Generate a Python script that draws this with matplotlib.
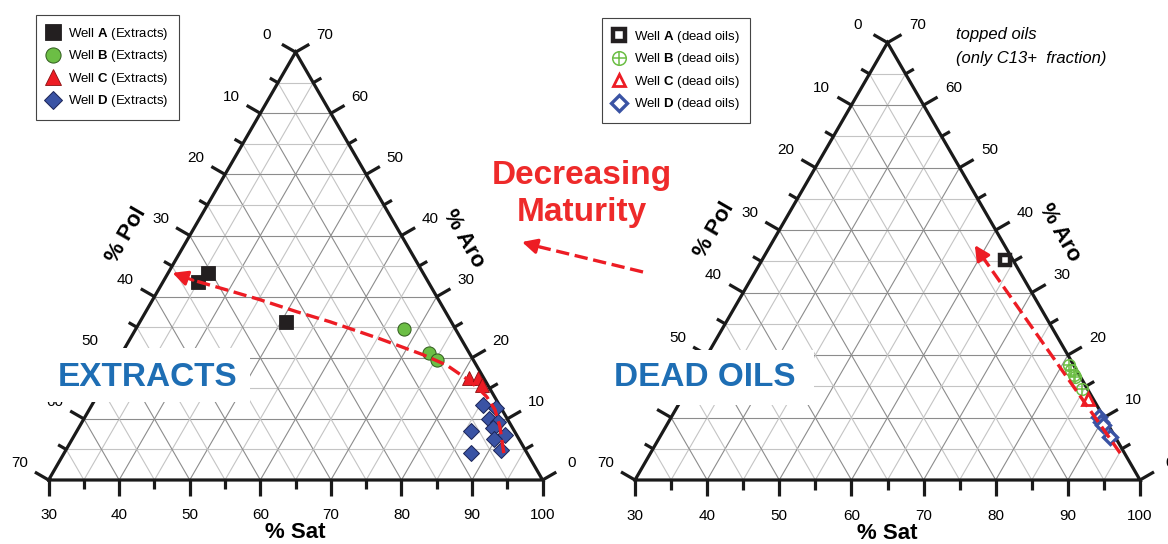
import numpy as np
import matplotlib.pyplot as plt
from matplotlib.lines import Line2D
from matplotlib.patches import Rectangle

plt.rcParams['font.family'] = ['Liberation Sans', 'DejaVu Sans']
plt.rcParams['mathtext.fontset'] = 'custom'
plt.rcParams['mathtext.rm'] = 'Liberation Sans'
plt.rcParams['mathtext.bf'] = 'Liberation Sans:bold'

# ---- data (% Sat, % Aro; % Pol = 100 - Sat - Aro) ----
# extracts
ext_a_sat = [35.0, 35.7, 50.7]
ext_a_aro = [32.4, 33.9, 25.9]
ext_b_sat = [68.0, 73.5, 75.2]
ext_b_aro = [24.7, 20.8, 19.6]
ext_c_sat = [81.2, 82.5, 83.6]
ext_c_aro = [16.7, 16.7, 15.5]
ext_d_sat = [85.4, 87.5, 87.4, 88.9, 88.7, 91.0, 89.8, 91.7, 85.8, 87.6]
ext_d_aro = [12.3, 11.8, 10.0, 9.5, 8.5, 7.4, 6.7, 4.9, 8.0, 4.4]

# dead oils (topped, C13+)
oil_a_sat = [63.7]
oil_a_aro = [35.2]
oil_b_sat = [80.9, 81.7, 82.5, 82.8, 84.7]
oil_b_aro = [18.4, 17.6, 16.8, 16.5, 14.6]
oil_c_sat = [86.3]
oil_c_aro = [13.0]
oil_d_sat = [89.2, 90.0, 90.5, 92.4]
oil_d_aro = [10.1, 9.3, 8.8, 6.9]

# maturity trend arrows (sat, aro)
trend_ext_sat = [92.3, 89.6, 87.5, 85.3, 83.1, 80.7, 77.0, 72.8, 65.4, 56.9, 51.5, 45.2, 39.7, 34.1, 30.6]
trend_ext_aro = [4.4, 8.7, 11.5, 13.6, 15.2, 16.7, 18.8, 20.5, 23.1, 25.9, 27.5, 29.5, 31.1, 32.7, 33.9]
trend_oil_sat = [95.1, 60.0, 58.3]
trend_oil_aro = [4.3, 36.0, 37.6]

BLACK = '#231f20'
GREEN = '#6cbe45'
RED = '#ed1c24'
BLUE = '#3a53a4'
TXTBLUE = '#1e6eb4'
W, H = 1168, 544


def tern(sat, aro):
    sat = np.asarray(sat, float)
    aro = np.asarray(aro, float)
    x = (sat - 30) / 70 + 0.5 * aro / 70
    y = np.sqrt(3) / 2 * aro / 70
    return x, y


fig = plt.figure(figsize=(W / 100, H / 100), dpi=100)
fig.patch.set_facecolor('white')


def make_ax(x0, s, ybase):
    xl, yl = (-0.15, 1.15), (-0.2, 0.95)
    ax = fig.add_axes([(x0 + xl[0] * s) / W, (H - ybase + yl[0] * s) / H,
                       (xl[1] - xl[0]) * s / W, (yl[1] - yl[0]) * s / H])
    ax.set_xlim(xl)
    ax.set_ylim(yl)
    ax.axis('off')
    ax.patch.set_alpha(0)
    return ax


def draw_frame(ax):
    c30, s30 = np.cos(np.pi / 6), 0.5
    for v in range(5, 70, 5):
        col = '#8c8c8c' if v % 10 == 0 else '#c4c4c4'
        kw = dict(color=col, lw=0.8, zorder=1)
        ax.plot(*tern([30, 100 - v], [v, v]), **kw)
        ax.plot(*tern([100 - v, 30], [0, 70 - v]), **kw)
        ax.plot(*tern([30 + v, 30 + v], [0, 70 - v]), **kw)
    ax.plot(*tern([30, 100, 30, 30], [0, 0, 70, 0]), color='#1a1a1a', lw=2.3,
            solid_joinstyle='miter', zorder=2)
    off = 0.068
    for v in range(0, 75, 5):
        L = 0.032 if v % 10 == 0 else 0.019
        # bottom: % Sat
        x, y = tern(30 + v, 0)
        ax.plot([x, x], [y, y - L], color='#1a1a1a', lw=2.3, zorder=2, solid_capstyle='butt')
        if v % 10 == 0:
            ax.text(x, y - 0.071, str(30 + v), ha='center', va='center', fontsize=11, zorder=3)
        # left: % Pol
        x, y = tern(30, 70 - v)
        ax.plot([x, x - L * c30], [y, y + L * s30], color='#1a1a1a', lw=2.3, zorder=2,
                solid_capstyle='butt')
        if v % 10 == 0:
            ax.text(x - off * c30, y + off * s30, str(v), ha='center', va='center',
                    fontsize=11, zorder=3)
        # right: % Aro
        x, y = tern(100 - v, v)
        ax.plot([x, x + L * c30], [y, y + L * s30], color='#1a1a1a', lw=2.3, zorder=2,
                solid_capstyle='butt')
        if v % 10 == 0:
            ax.text(x + off * c30, y + off * s30, str(v), ha='center', va='center',
                    fontsize=11, zorder=3)
    ax.text(0.5, -0.106, '% Sat', ha='center', va='center', fontsize=16, fontweight='bold')
    x, y = tern(30, 35.5)
    ax.text(x - 0.112 * c30, y + 0.112 * s30, '% Pol', ha='center', va='center', fontsize=16,
            fontweight='bold', rotation=60, rotation_mode='anchor')
    x, y = tern(64.5, 35)
    ax.text(x + 0.112 * c30, y + 0.112 * s30, '% Aro', ha='center', va='center', fontsize=16,
            fontweight='bold', rotation=-60, rotation_mode='anchor')


def trend(ax, sat, aro):
    x, y = tern(sat, aro)
    ax.plot(x[:-1], y[:-1], color=RED, lw=2.4, dashes=(4, 1.7), zorder=5)
    ax.annotate('', xy=(x[-1], y[-1]), xytext=(x[-2], y[-2]),
                arrowprops=dict(arrowstyle='-|>,head_length=0.9,head_width=0.45',
                                color=RED, lw=2.2, shrinkA=0, shrinkB=0), zorder=5)


def label_box(ax, txt, x, y, box):
    ax.add_patch(Rectangle((box[0], box[1]), box[2], box[3], facecolor='white',
                           edgecolor='none', zorder=6))
    ax.text(x, y, txt, ha='center', va='center', fontsize=24, fontweight='bold',
            color=TXTBLUE, zorder=7)


# ---- left: extracts ----
ax1 = make_ax(48.6, 494, 480)
draw_frame(ax1)
h1 = ax1.plot(*tern(ext_a_sat, ext_a_aro), 's', ms=9.5, mfc=BLACK, mec=BLACK, mew=0.6, zorder=4)[0]
h2 = ax1.plot(*tern(ext_b_sat, ext_b_aro), 'o', ms=9.5, mfc=GREEN, mec='#2f5a1c', mew=0.7, zorder=4)[0]
h3 = ax1.plot(*tern(ext_c_sat, ext_c_aro), '^', ms=9.5, mfc=RED, mec='#8a1010', mew=0.6, zorder=4)[0]
h4 = ax1.plot(*tern(ext_d_sat, ext_d_aro), 'D', ms=7.8, mfc=BLUE, mec='#1b2456', mew=0.7, zorder=4)[0]
trend(ax1, trend_ext_sat, trend_ext_aro)
label_box(ax1, 'EXTRACTS', 0.201, 0.208, (-0.04, 0.158, 0.448, 0.109))
leg1 = ax1.legend([h1, h2, h3, h4],
                  [r'Well $\mathbf{A}$ (Extracts)', r'Well $\mathbf{B}$ (Extracts)',
                   r'Well $\mathbf{C}$ (Extracts)', r'Well $\mathbf{D}$ (Extracts)'],
                  loc='upper left', bbox_to_anchor=(36 / W, 1 - 15 / H), bbox_transform=fig.transFigure,
                  borderaxespad=0, fontsize=9.5, handlelength=1.0, handletextpad=0.6,
                  borderpad=0.8, labelspacing=0.5, fancybox=False, framealpha=1,
                  edgecolor='#444444', markerscale=1.15)
leg1.get_frame().set_linewidth(0.8)

# ---- right: dead oils ----
ax2 = make_ax(635, 505, 480)
draw_frame(ax2)
g1 = ax2.plot(*tern(oil_a_sat, oil_a_aro), 's', ms=7.0, mfc='white', mec=BLACK, mew=3.2, zorder=4)[0]
g2a = ax2.plot(*tern(oil_b_sat, oil_b_aro), 'o', ms=8.5, mfc='none', mec=GREEN, mew=1.1, zorder=4)[0]
g2b = ax2.plot(*tern(oil_b_sat, oil_b_aro), '+', ms=8.5, mec=GREEN, mew=1.1, zorder=4)[0]
g3 = ax2.plot(*tern(oil_c_sat, oil_c_aro), '^', ms=8, mfc='white', mec=RED, mew=2.0, zorder=4)[0]
g4 = ax2.plot(*tern(oil_d_sat, oil_d_aro), 'D', ms=6.8, mfc='white', mec=BLUE, mew=2.4, zorder=4)[0]
trend(ax2, trend_oil_sat, trend_oil_aro)
label_box(ax2, 'DEAD OILS', 0.139, 0.202, (-0.065, 0.149, 0.42, 0.109))
leg2 = ax2.legend([g1, (g2a, g2b), g3, g4],
                  [r'Well $\mathbf{A}$ (dead oils)', r'Well $\mathbf{B}$ (dead oils)',
                   r'Well $\mathbf{C}$ (dead oils)', r'Well $\mathbf{D}$ (dead oils)'],
                  loc='upper left', bbox_to_anchor=(602 / W, 1 - 18 / H), bbox_transform=fig.transFigure,
                  borderaxespad=0, fontsize=9.5, handlelength=1.0, handletextpad=0.6,
                  borderpad=0.8, labelspacing=0.5, fancybox=False, framealpha=1,
                  edgecolor='#444444', markerscale=1.15)
leg2.get_frame().set_linewidth(0.8)

fig.text(956 / W, 1 - 35 / H, 'topped oils', fontsize=12, style='italic', va='center', ha='left')
fig.text(956 / W, 1 - 58 / H, '(only C13+  fraction)', fontsize=12, style='italic', va='center', ha='left')

# ---- middle annotation ----
fig.text(582 / W, 1 - 175 / H, 'Decreasing', color='#ee2a2a', fontsize=24, fontweight='bold',
         ha='center', va='center')
fig.text(582 / W, 1 - 212 / H, 'Maturity', color='#ee2a2a', fontsize=24, fontweight='bold',
         ha='center', va='center')
mx = [643, 540, 522]
my = [H - 272, H - 247, H - 242]
fig.add_artist(Line2D(np.array(mx[:2]) / W, np.array(my[:2]) / H, transform=fig.transFigure,
                      color=RED, lw=2.4, dashes=(4, 1.7)))
ax1.annotate('', xy=(mx[2], my[2]), xycoords='figure pixels', xytext=(mx[1], my[1]),
             textcoords='figure pixels',
             arrowprops=dict(arrowstyle='-|>,head_length=0.9,head_width=0.45', color=RED, lw=2.2,
                             shrinkA=0, shrinkB=0), annotation_clip=False)

fig.savefig('out.png', dpi=100)
